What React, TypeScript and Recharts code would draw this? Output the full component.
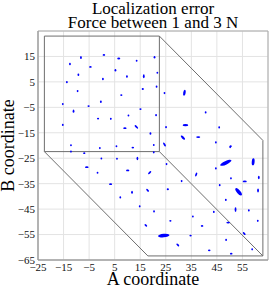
import React from 'react';
import {
  ScatterChart, Scatter, XAxis, YAxis, CartesianGrid, ReferenceLine, ReferenceArea,
} from 'recharts';

const titleLines = ['Localization error', 'Force between 1 and 3 N'];
const xLabel = 'A coordinate';
const yLabel = 'B coordinate';

const xTicks = [-25, -15, -5, 5, 15, 25, 35, 45, 55];
const yTicks = [-65, -55, -45, -35, -25, -15, -5, 5, 15];
const xDomain = [-25, 65];
const yDomain = [-65, 25];

// Box outline (front face corners and the shift of the back face)
const boxX = [-22.5, 22.5];
const boxY = [-22.4, 23];
const boxShift = [40.5, -41];

// Points: position, error magnitude and direction (degrees)
const ptsX = [-8.2, 0.8, -12.5, -4.5, 5.3, -9.2, 0.4, -13.7, -9.5, -0.4, -15.3, -5.2, -11.1, -1.5, 3.5, -15.3, -12.1,
  6.6, 13.6, 20.6, 9.8, 16.4, 21.7, 16, 21.4, 24.5, 32.3, 7.6, 15.1, 10.4, 21.2, 9, 13.5, 25.1, 32.7, 19, 31.7, 20.3, 24.5,
  40.6, 45.9, 37.7, 44.6, 50.4,
  -0.8, -12.1, -6.9, -0.2, -5.9, -1.7, 3.4,
  5.7, 12.1, 20.3, 5.9, 13.9, 25.3, 10.1, 18.7, 31.2, 7.2, 11.8, 17.9, 25.8, 14.8, 20.4, 26.8, 17.2, 24.2, 29.7, 34.7,
  50.2, 48.5, 59.2, 36.9, 44.6, 50.5, 55.9, 61.4, 46.1, 53.5, 61.1, 48.5, 52.3, 57.5, 43.8, 35.6, 49.4, 61, 39.2, 55.7, 48.6, 58.8, 42, 50.6];
const ptsY = [14.6, 15.6, 12, 10.9, 9.6, 7.8, 6.1, 4.9, 1.4, -2.8, -3.7, -4.5, -6.5, -9.4, -9.5, -11.9, -19.9,
  14.2, 13.3, 14.7, 7.1, 7.2, 8.6, 2.2, 3.1, 0.6, 0.7, -0.2, -5.7, -8.2, -8.1, -13.2, -12.7, -12.8, -12, -15.3, -16.9, -19.8, -19.6,
  -7, -12.9, -16.7, -18.8, -20.3,
  -21, -22.4, -23, -25.1, -28.5, -30.7, -35.2,
  -20.3, -20.8, -22.7, -25.2, -25.1, -27.3, -29.8, -30.7, -34, -40.4, -38.4, -37.6, -37.2, -43.9, -45.9, -49.6, -51.4, -55.4, -59.1, -55.4,
  -20.6, -26.8, -26.4, -31.4, -29, -32.9, -34.1, -32.6, -35.6, -38.2, -37.7, -41.4, -45.2, -45.5, -46.1, -47.9, -50.3, -49.6, -51.6, -54.6, -57.1, -60.8, -61.2, -62.5];
const ptsErr = [1.2, 1.0, 1.0, 1.0, 1.0, 1.0, 1.0, 0.8, 0.8, 1.0, 0.8, 0.8, 1.2, 0.8, 0.8, 0.8, 0.8,
  1.2, 0.8, 1.0, 1.0, 1.6, 0.8, 0.8, 0.8, 0.8, 2.4, 0.8, 0.8, 0.8, 0.8, 1.3, 1.8, 0.8, 2.2, 1.0, 2.2, 0.8, 1.8,
  0.8, 0.8, 1.6, 0.8, 0.8,
  0.8, 0.8, 0.8, 0.8, 1.4, 0.8, 1.2,
  0.8, 1.0, 0.8, 0.8, 1.3, 0.8, 1.3, 1.6, 0.8, 0.8, 1.2, 1.4, 0.8, 0.8, 0.8, 0.8, 1.3, 4.5, 1.4, 0.9,
  0.8, 4.8, 2.8, 1.6, 0.8, 0.9, 1.6, 1.4, 0.8, 3.6, 1.6, 0.9, 1.8, 0.8, 0.8, 0.8, 1.4, 0.8, 1.0, 1.4, 0.8, 0.8, 1.0, 1.0];
const ptsAng = [90, 0, 90, 0, 90, 90, 90, 90, 90, 90, 90, 0, 90, 0, 90, 90, 90,
  0, 90, 90, 90, 90, 90, 0, 90, 90, 80, 0, 0, 90, 90, 0, -45, 90, 0, 90, -45, 90, -60,
  90, 90, 0, 90, 0,
  90, 90, 0, 90, 0, 90, 0,
  90, 0, 90, 90, 90, 90, 0, 45, 90, 90, 90, -45, 0, 90, 90, 0, -45, 5, -45, 0,
  90, 25, 85, 70, 90, 90, 0, 90, 90, -50, 90, 90, 90, 90, 90, 90, 0, 90, 0, -45, 90, 90, 0, 0];

const data = ptsX.map((x, i) => ({ x, y: ptsY[i], err: ptsErr[i], ang: ptsAng[i] }));

const W = 269;
const H = 287;
const M = { top: 31, right: 1, bottom: 0, left: 0 };
const Y_AXIS_W = 38;
const X_AXIS_H = 27;
const PLOT_W = W - M.left - M.right - Y_AXIS_W;
const PXU = PLOT_W / (xDomain[1] - xDomain[0]);

const fmt = (v: number) => (v < 0 ? '\u2212' + Math.abs(v) : String(v));

const Blob = (props: any) => {
  const { cx, cy, payload } = props;
  if (cx == null || cy == null) return null;
  const L = payload.err * PXU;
  const rx = Math.max(1.1, L / 2);
  const ry = Math.max(0.9, Math.min(L * 0.2, 1.8));
  return (
    <ellipse
      cx={cx}
      cy={cy}
      rx={rx}
      ry={ry}
      fill="#0000ff"
      transform={`rotate(${-payload.ang} ${cx} ${cy})`}
    />
  );
};

const bx0 = boxX[0], bx1 = boxX[1], by0 = boxY[0], by1 = boxY[1];
const sx = boxShift[0], sy = boxShift[1];
const boxEdges = [
  [[bx0, by1], [bx1, by1]],
  [[bx0, by0], [bx1, by0]],
  [[bx0, by0], [bx0, by1]],
  [[bx1, by0], [bx1, by1]],
  [[bx1 + sx, by0 + sy], [bx1 + sx, by1 + sy]],
  [[bx0 + sx, by0 + sy], [bx1 + sx, by0 + sy]],
  [[bx1, by1], [bx1 + sx, by1 + sy]],
  [[bx0, by0], [bx0 + sx, by0 + sy]],
  [[bx1, by0], [bx1 + sx, by0 + sy]],
];

const FONT = "'Liberation Serif', 'Times New Roman', 'DejaVu Serif', serif";
const tickStyle = { fontFamily: FONT, fontSize: 11, fill: '#111', style: { fontFamily: FONT } };

export default function App() {
  return (
    <div style={{ position: 'absolute', left: 0, top: 0, width: W, height: H, background: '#fff', fontFamily: FONT }}>
      <ScatterChart width={W} height={H} margin={M} style={{ fontFamily: FONT }}>
        <CartesianGrid stroke="#e3e3e3" strokeWidth={1} />
        <ReferenceArea x1={xDomain[0]} x2={xDomain[1]} y1={yDomain[0]} y2={yDomain[1]} fill="none" stroke="#aaaaaa" strokeWidth={1} />
        <XAxis
          type="number"
          dataKey="x"
          domain={xDomain}
          ticks={xTicks}
          height={X_AXIS_H}
          tickFormatter={fmt}
          tickLine={false}
          tickSize={3}
          tickMargin={0}
          axisLine={{ stroke: '#999999' }}
          tick={tickStyle}
          interval={0}
        />
        <YAxis
          type="number"
          dataKey="y"
          domain={yDomain}
          ticks={yTicks}
          width={Y_AXIS_W}
          tickFormatter={fmt}
          tickLine={false}
          tickSize={3}
          tickMargin={0}
          axisLine={{ stroke: '#999999' }}
          tick={tickStyle}
          interval={0}
        />
        {boxEdges.map((e, i) => (
          <ReferenceLine
            key={i}
            segment={[{ x: e[0][0], y: e[0][1] }, { x: e[1][0], y: e[1][1] }]}
            stroke="#6e6e6e"
            strokeWidth={1}
          />
        ))}
        <Scatter data={data} shape={Blob} isAnimationActive={false} />
      </ScatterChart>
      <svg width={W} height={H} style={{ position: 'absolute', left: 0, top: 0, pointerEvents: 'none', fontFamily: FONT }}>
        <text x={153} y={13.5} textAnchor="middle" style={{ fontFamily: FONT, fontSize: 17 }} fill="#000">{titleLines[0]}</text>
        <text x={153} y={28} textAnchor="middle" style={{ fontFamily: FONT, fontSize: 17 }} fill="#000">{titleLines[1]}</text>
        <text x={153} y={284.5} textAnchor="middle" style={{ fontFamily: FONT, fontSize: 18 }} fill="#000">{xLabel}</text>
        <text x={0} y={0} transform="translate(14,145.5) rotate(-90)" textAnchor="middle" style={{ fontFamily: FONT, fontSize: 18 }} fill="#000">{yLabel}</text>
      </svg>
    </div>
  );
}
